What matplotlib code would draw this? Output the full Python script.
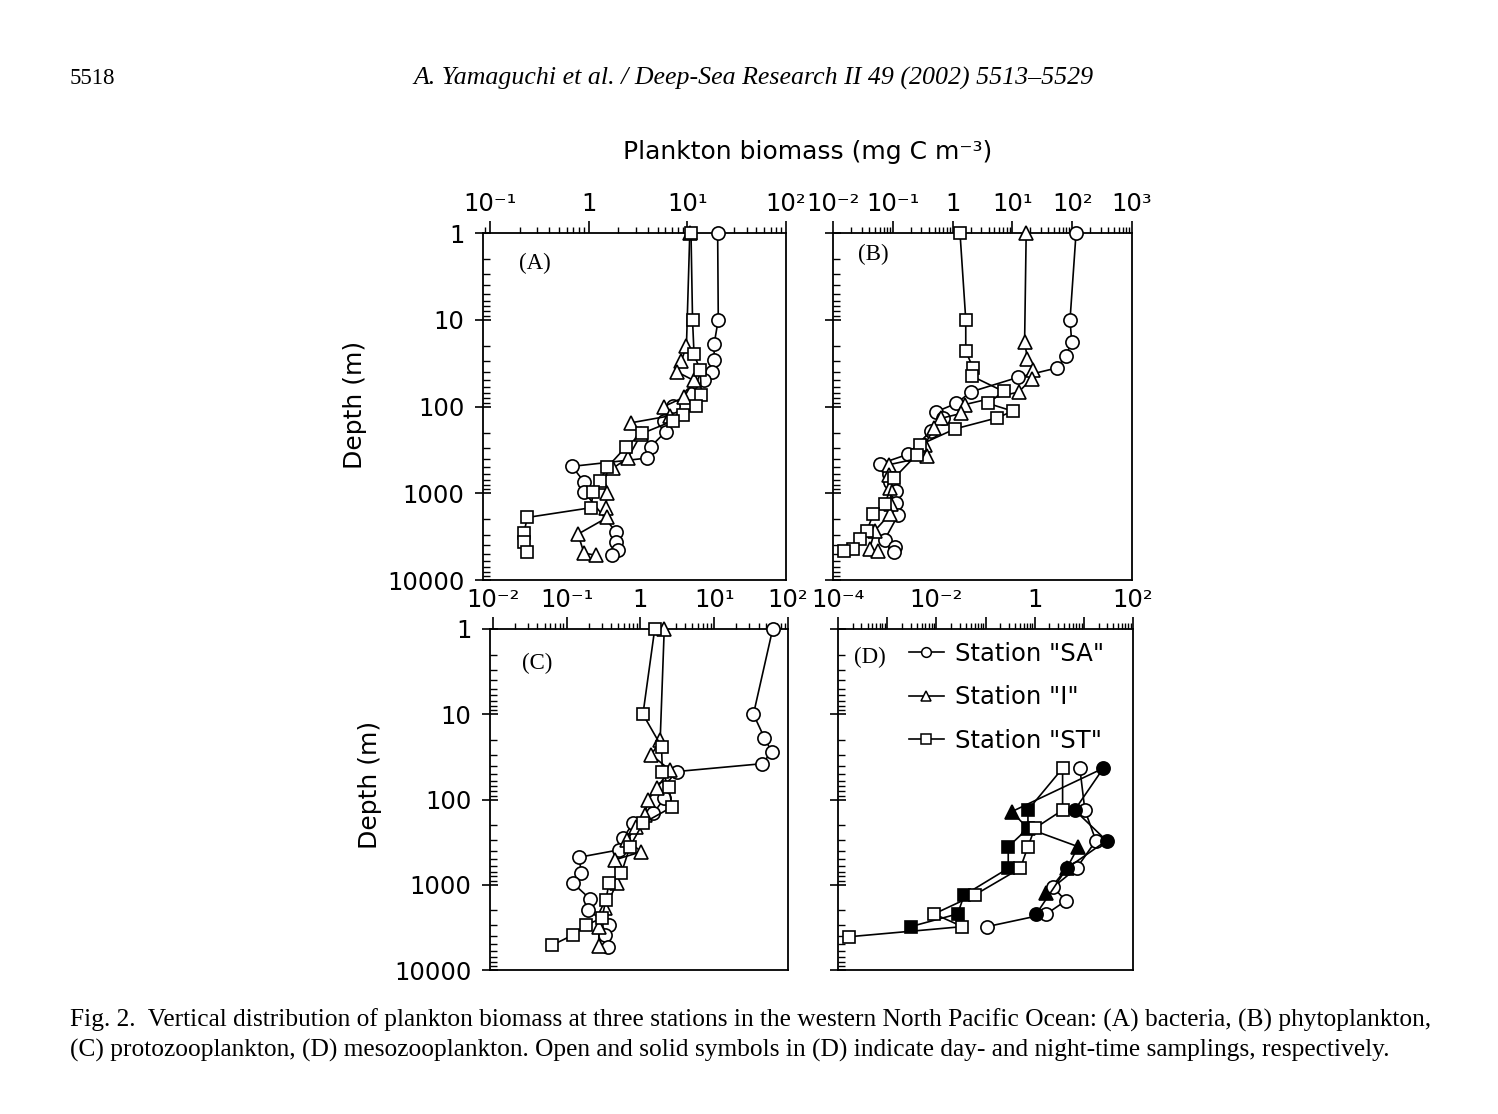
import matplotlib
matplotlib.use('Agg')
import matplotlib.pyplot as plt
import numpy as np
from matplotlib.ticker import LogLocator, NullFormatter, FuncFormatter
from matplotlib.lines import Line2D

# ---------------- data ----------------
# (A) bacteria
a_sa_depth = [1, 10, 19, 29, 40, 49, 71, 98, 147, 195, 290, 393, 490, 740, 960, 2770, 3680, 4500, 5130]
a_sa_val = [20.3, 20.6, 18.7, 18.7, 17.7, 14.8, 10.9, 7.1, 5.8, 6.05, 4.26, 3.95, 0.68, 0.90, 0.90, 1.88, 1.9, 2.0, 1.74]
a_i_depth = [1, 20, 30, 40, 50, 78, 100, 128, 154, 209, 393, 510, 740, 990, 1470, 1900, 2960, 4900, 5200]
a_i_val = [10.6, 9.8, 8.7, 7.9, 11.6, 9.3, 5.8, 6.7, 2.7, 3.4, 2.5, 1.78, 1.32, 1.55, 1.49, 1.55, 0.78, 0.90, 1.2]
a_st_depth = [1, 10, 25, 38, 73, 98, 126, 147, 204, 290, 500, 714, 960, 1470, 1900, 2900, 3680, 4800]
a_st_val = [10.9, 11.3, 11.7, 13.5, 13.9, 12.2, 9.1, 7.1, 3.5, 2.4, 1.55, 1.3, 1.12, 1.05, 0.24, 0.22, 0.22, 0.235]

# (B) phytoplankton
b_sa_depth = [1, 10, 18, 26, 36, 46, 68, 92, 115, 137, 192, 355, 460, 600, 750, 930, 1280, 1800, 3430, 4200, 4800]
b_sa_val = [116, 92, 98, 79, 55, 12.6, 2.0, 1.16, 0.53, 0.69, 0.43, 0.18, 0.06, 0.085, 0.09, 0.115, 0.115, 0.122, 0.073, 0.108, 0.105]
b_i_depth = [1, 18, 28, 38, 48, 68, 95, 120, 137, 178, 278, 376, 470, 610, 865, 1340, 1740, 2700, 4380, 4600]
b_i_val = [17, 16, 17.8, 22, 21, 12.7, 1.6, 1.4, 0.64, 0.49, 0.34, 0.38, 0.085, 0.085, 0.089, 0.095, 0.089, 0.05, 0.041, 0.056]
b_st_depth = [1, 10, 23, 36, 45, 67, 92, 113, 135, 181, 278, 360, 670, 1320, 1740, 2700, 3400, 4380, 4600]
b_st_val = [1.33, 1.66, 1.66, 2.2, 2.15, 7.1, 3.9, 10.1, 5.6, 1.1, 0.28, 0.25, 0.105, 0.074, 0.047, 0.037, 0.028, 0.022, 0.015]

# (C) protozooplankton
c_sa_depth = [1, 10, 19, 27.5, 38, 47, 73, 97, 145, 190, 285, 390, 476, 734, 962, 1480, 1980, 2960, 3880, 5340]
c_sa_val = [62, 34, 48, 60, 45, 3.1, 2.0, 2.1, 1.5, 0.79, 0.58, 0.51, 0.147, 0.158, 0.122, 0.21, 0.195, 0.37, 0.33, 0.36]
c_i_depth = [1, 20, 30, 45, 74, 101, 152, 208, 300, 410, 510, 960, 1890, 3100, 5300]
c_i_val = [2.1, 1.85, 1.41, 2.5, 1.65, 1.27, 1.14, 0.88, 0.65, 1.03, 0.45, 0.48, 0.33, 0.275, 0.27]
c_st_depth = [1, 10, 24, 47, 71, 122, 190, 356, 734, 946, 1510, 2460, 2960, 3880, 5090]
c_st_val = [1.56, 1.08, 1.93, 1.98, 2.4, 2.7, 1.08, 0.72, 0.55, 0.375, 0.34, 0.30, 0.185, 0.122, 0.064]

# (D) mesozooplankton, day (open) and night (solid)
d_sa_day_depth = [43, 133, 304, 641, 1070, 1540, 2200, 3100]
d_sa_day_val = [8.3, 10.5, 17.6, 7.1, 2.37, 4.3, 1.74, 0.107]
d_sa_night_depth = [43, 133, 304, 641, 2200]
d_sa_night_val = [24.9, 6.5, 29, 4.5, 1.08]
d_i_night_depth = [43, 139, 218, 358, 641, 1260]
d_i_night_val = [24.9, 0.34, 0.73, 7.7, 4.5, 1.74]
d_st_day_depth = [43, 133, 218, 358, 641, 1320, 2200, 3100, 4070]
d_st_day_val = [3.7, 3.7, 1.0, 0.73, 0.51, 0.06, 0.009, 0.034, 1.7e-4]
d_st_night_depth = [43, 133, 218, 358, 641, 1320, 2200, 3100]
d_st_night_val = [3.7, 0.73, 0.73, 0.29, 0.29, 0.037, 0.027, 0.003]

station_labels = ['Station "SA"', 'Station "I"', 'Station "ST"']
caption = ["Fig. 2.  Vertical distribution of plankton biomass at three stations in the western North Pacific Ocean: (A) bacteria, (B) phytoplankton,",
           "(C) protozooplankton, (D) mesozooplankton. Open and solid symbols in (D) indicate day- and night-time samplings, respectively."]

# ---------------- figure ----------------
plt.rcParams['font.family'] = ['DejaVu Sans']
SERIF = ['Liberation Serif', 'DejaVu Serif']
SUP = str.maketrans('-0123456789', '\u207b\u2070\u00b9\u00b2\u00b3\u2074\u2075\u2076\u2077\u2078\u2079')

W, H = 1498, 1114
fig = plt.figure(figsize=(W / 100, H / 100), dpi=100)
fig.patch.set_facecolor('white')


def box(l, r, t, b):
    return [l / W, 1 - b / H, (r - l) / W, (b - t) / H]


def decade_label(every=1):
    def f(v, pos):
        e = int(round(np.log10(v)))
        if e % every:
            return ''
        if e == 0:
            return '1'
        return '10' + str(e).translate(SUP)
    return FuncFormatter(f)


def style(ax, xlim, every=1, ylabels=True):
    ax.set_xscale('log')
    ax.set_yscale('log')
    ax.set_xlim(*xlim)
    ax.set_ylim(10000, 1)
    ax.xaxis.tick_top()
    ax.xaxis.set_major_locator(LogLocator(base=10, numticks=20))
    ax.xaxis.set_minor_locator(LogLocator(base=10, subs=np.arange(2, 10), numticks=20))
    ax.xaxis.set_major_formatter(decade_label(every))
    ax.xaxis.set_minor_formatter(NullFormatter())
    ax.yaxis.set_major_locator(LogLocator(base=10, numticks=20))
    ax.yaxis.set_minor_locator(LogLocator(base=10, subs=np.arange(2, 10), numticks=20))
    ax.yaxis.set_major_formatter(FuncFormatter(lambda v, p: '%d' % round(v)))
    ax.yaxis.set_minor_formatter(NullFormatter())
    ax.tick_params(axis='x', which='major', direction='out', length=9, width=1.2,
                   top=True, bottom=False, labelsize=17.5, pad=3)
    ax.tick_params(axis='x', which='minor', direction='out', length=4.5, width=1.0,
                   top=True, bottom=False)
    ax.tick_params(axis='y', which='major', direction='inout', length=11, width=1.2,
                   left=True, right=False, labelsize=17.5, pad=8, labelleft=ylabels)
    ax.tick_params(axis='y', which='minor', direction='in', length=5, width=1.0,
                   left=True, right=False)
    for s in ax.spines.values():
        s.set_linewidth(1.3)


def draw(ax, val, depth, marker, ms, filled=False, hide_first=False):
    every = list(range(1, len(val))) if hide_first else None
    ax.plot(val, depth, color='black', lw=1.2, marker=marker, ms=ms,
            mfc='black' if filled else 'white', mec='black', mew=1.2,
            markevery=every, clip_on=False, zorder=3)


ax_a = fig.add_axes(box(483, 786, 233, 580))
ax_b = fig.add_axes(box(833, 1132, 233, 580))
ax_c = fig.add_axes(box(490, 788, 629, 970))
ax_d = fig.add_axes(box(838, 1133, 629, 970))

style(ax_a, (10 ** -1.07, 10 ** 2))
style(ax_b, (10 ** -2, 10 ** 3), ylabels=False)
style(ax_c, (10 ** -2.04, 10 ** 2))
style(ax_d, (10 ** -4, 10 ** 2), every=2, ylabels=False)

for ax, sa, i, st in [
    (ax_a, (a_sa_val, a_sa_depth), (a_i_val, a_i_depth), (a_st_val, a_st_depth)),
    (ax_b, (b_sa_val, b_sa_depth), (b_i_val, b_i_depth), (b_st_val, b_st_depth)),
    (ax_c, (c_sa_val, c_sa_depth), (c_i_val, c_i_depth), (c_st_val, c_st_depth)),
]:
    draw(ax, *sa, 'o', 9.5)
    draw(ax, *i, '^', 9.5)
    draw(ax, *st, 's', 8.5)

draw(ax_d, d_i_night_val, d_i_night_depth, '^', 9.5, filled=True, hide_first=True)
draw(ax_d, d_st_night_val, d_st_night_depth, 's', 8.5, filled=True, hide_first=True)
draw(ax_d, d_st_day_val, d_st_day_depth, 's', 8.5)
draw(ax_d, d_sa_day_val, d_sa_day_depth, 'o', 9.5)
draw(ax_d, d_sa_night_val, d_sa_night_depth, 'o', 9.5, filled=True)

handles = [Line2D([], [], color='black', lw=1.2, marker=m, ms=7, mfc='white', mec='black', mew=1.1)
           for m in ['o', '^', 's']]
ax_d.legend(handles, station_labels, loc='upper left', bbox_to_anchor=(0.24, 0.962),
            frameon=False, fontsize=17.5, handlelength=1.45, handletextpad=0.45,
            labelspacing=0.8, borderaxespad=0, borderpad=0)

for ax, lab, x, y in [(ax_a, '(A)', 0.17, 0.913), (ax_b, '(B)', 0.134, 0.937),
                      (ax_c, '(C)', 0.158, 0.90), (ax_d, '(D)', 0.108, 0.918)]:
    ax.text(x, y, lab, transform=ax.transAxes, ha='center', va='center',
            fontsize=16.5, family=SERIF)

fig.text(808 / W, 1 - 152 / H, 'Plankton biomass (mg C m' + '-3'.translate(SUP) + ')',
         ha='center', va='center', fontsize=18)
fig.text(355 / W, 1 - 405 / H, 'Depth (m)', rotation=90, ha='center', va='center', fontsize=18)
fig.text(370 / W, 1 - 785 / H, 'Depth (m)', rotation=90, ha='center', va='center', fontsize=18)

fig.text(70 / W, 1 - 78 / H, '5518', ha='left', va='center', fontsize=16.5, family=SERIF)
fig.text(753 / W, 1 - 78 / H, 'A. Yamaguchi et al. / Deep-Sea Research II 49 (2002) 5513\u20135529',
         ha='center', va='center', fontsize=18.6, family=SERIF, style='italic')
fig.text(70 / W, 1 - 1020 / H, caption[0], ha='left', va='center', fontsize=18.3, family=SERIF)
fig.text(70 / W, 1 - 1050 / H, caption[1], ha='left', va='center', fontsize=18.3, family=SERIF)

fig.savefig('out.png', dpi=100, facecolor='white')
